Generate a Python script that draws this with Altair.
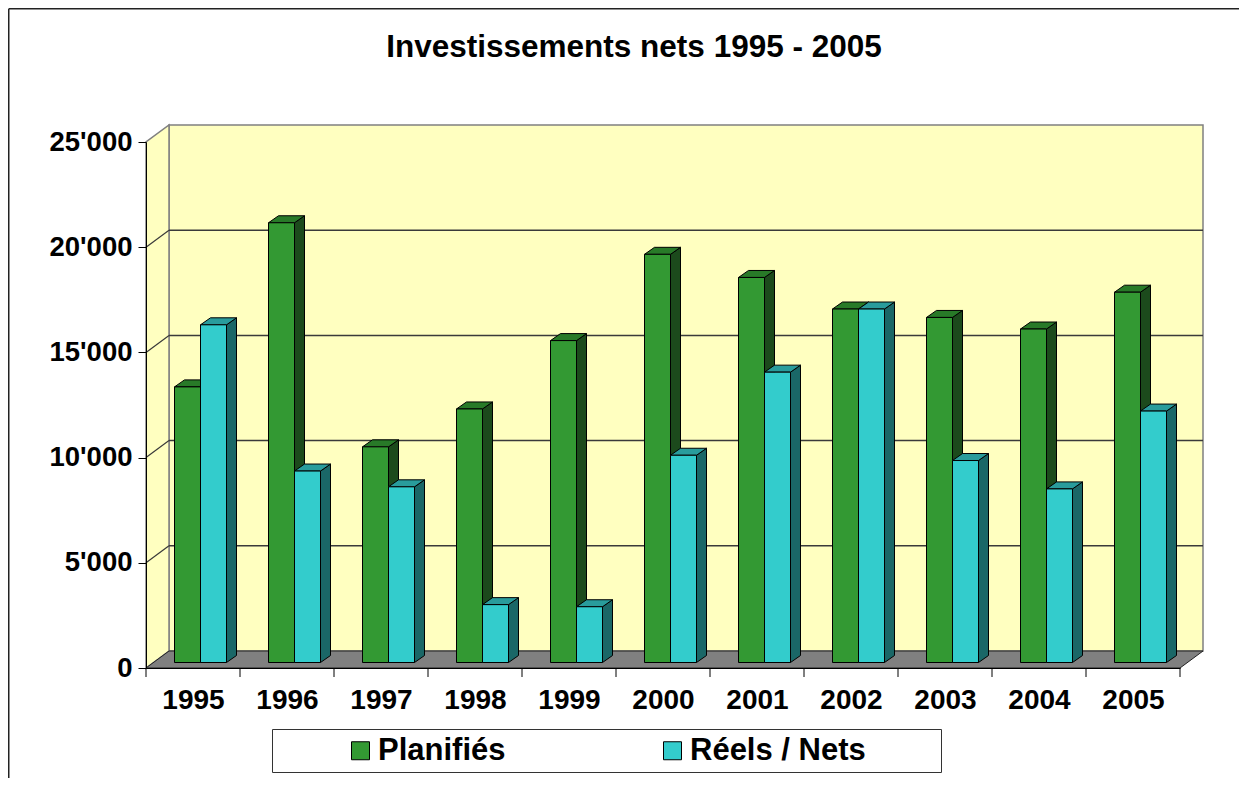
import json
import altair as alt
import pandas as pd

# ---------------- data ----------------
years = ["1995", "1996", "1997", "1998", "1999", "2000", "2001", "2002", "2003", "2004", "2005"]
planifies = [13100, 20900, 10250, 12050, 15300, 19400, 18300, 16800, 16400, 15850, 17600]
reels = [16050, 9100, 8350, 2750, 2650, 9850, 13800, 16800, 9600, 8250, 11950]
series_names = ["Planifiés", "Réels / Nets"]
y_ticks = [0, 5000, 10000, 15000, 20000, 25000]
title_text = "Investissements nets 1995 - 2005"

# ---------------- style ----------------
front_colors = ["#339933", "#33CCCC"]
top_colors = ["#287A28", "#299C9C"]
side_colors = ["#1C4A1C", "#1A6767"]
wall_color = "#FFFFC0"
floor_color = "#808080"
FONT = "Liberation Sans"

N = len(years)
CAT_PX = 94            # pixels per category
W = CAT_PX * N         # plot width
H = 526                # plot height (0 .. 25000 on the front plane)
YMAX = 25000
ux = 1.0 / CAT_PX      # data units per pixel (x)
uy = YMAX / H          # data units per pixel (y)
PAD = {"left": 138, "top": 134, "right": 59, "bottom": 110}

WALL_DX, WALL_DY = 23, 17      # depth of the 3-D box (px)
BAR_FX, BAR_FY = 7.5, 5.5      # bar front plane offset (px)
BAR_DX, BAR_DY = 10, 7         # bar depth (px)
BAR_W = 26                     # bar width (px)
TICK = 9                       # category tick length (px)

# ---------------- geometry tables built from the data ----------------
front_rows, top_rows, side_rows = [], [], []
for s, vals in enumerate([planifies, reels]):
    for i, v in enumerate(vals):
        c = i + 0.5 + BAR_FX * ux
        x0 = c - BAR_W * ux if s == 0 else c
        x1 = x0 + BAR_W * ux
        y0 = BAR_FY * uy
        y1 = v + y0
        bid = f"{s}-{years[i]}"
        front_rows.append(dict(series=series_names[s], s=s, year=years[i], value=v,
                               x0=x0, x1=x1, y0=y0, y1=y1))
        top_rows += [
            dict(id=bid, s=s, fill=top_colors[s], y=y1, xa=x0, xb=x1),
            dict(id=bid, s=s, fill=top_colors[s], y=y1 + BAR_DY * uy,
                 xa=x0 + BAR_DX * ux, xb=x1 + BAR_DX * ux),
        ]
        side_rows += [
            dict(id=bid, s=s, fill=side_colors[s], x=x1, ya=y0, yb=y1),
            dict(id=bid, s=s, fill=side_colors[s], x=x1 + BAR_DX * ux,
                 ya=y0 + BAR_DY * uy, yb=y1 + BAR_DY * uy),
        ]
front_df = pd.DataFrame(front_rows)
top_df = pd.DataFrame(top_rows)
side_df = pd.DataFrame(side_rows)

DXu, DYu = WALL_DX * ux, WALL_DY * uy
back_df = pd.DataFrame([dict(x0=DXu, x1=N + DXu, y0=DYu, y1=YMAX + DYu)])
sidewall_df = pd.DataFrame([dict(x=0, ya=0, yb=YMAX), dict(x=DXu, ya=DYu, yb=YMAX + DYu)])
floor_df = pd.DataFrame([dict(y=0, xa=0, xb=N), dict(y=DYu, xa=DXu, xb=N + DXu)])
grid_vals = [v for v in y_ticks if 0 < v < YMAX]
grid_back_df = pd.DataFrame([dict(x0=DXu, x1=N + DXu, y=v + DYu) for v in grid_vals])
grid_side_df = pd.DataFrame([dict(x0=0, x1=DXu, y0=v, y1=v + DYu) for v in grid_vals])
cat_tick_df = pd.DataFrame([dict(x=i, y0=0, y1=-TICK * uy) for i in range(N + 1)])
one_row = pd.DataFrame([{"k": 0}])

xs = alt.Scale(domain=[0, N], nice=False, zero=False)
ys = alt.Scale(domain=[0, YMAX], nice=False, zero=False)

year_expr = json.dumps(years) + "[floor(datum.value)] || ''"

x_axis = alt.Axis(values=[i + 0.5 for i in range(N)], labelExpr=year_expr, title=None, grid=False,
                  ticks=False, labelAlign="center", labelFont=FONT, labelFontSize=28,
                  labelFontWeight="bold", labelColor="black", labelPadding=18,
                  labelOverlap=False, labelFlush=False, zindex=2,
                  domainColor="black", domainWidth=1)
y_axis = alt.Axis(values=y_ticks, labelExpr="replace(format(datum.value, ','), ',', \"'\")",
                  title=None, grid=False, labelFont=FONT, labelFontSize=27.5,
                  labelFontWeight="bold", labelColor="black", labelPadding=6, zindex=2,
                  labelOverlap=False, labelFlush=False,
                  tickColor="black", tickSize=8, domainColor="black", domainWidth=1)


def X(field, **kw):
    return alt.X(field, scale=xs, axis=x_axis, **kw)


def Y(field, **kw):
    return alt.Y(field, scale=ys, axis=y_axis, **kw)


# chart frame (decoration): left and top border lines, kept inside the canvas
frame_left = alt.Chart(one_row).mark_rule(color="#222", strokeWidth=1.5).encode(
    x=alt.value(-PAD["left"] + 0.75), y=alt.value(-PAD["top"] + 0.75),
    y2=alt.value(H + PAD["bottom"]))
frame_top = alt.Chart(one_row).mark_rule(color="#222", strokeWidth=1.5).encode(
    x=alt.value(-PAD["left"] + 0.75), x2=alt.value(W + PAD["right"]),
    y=alt.value(-PAD["top"] + 0.75))

# legend box (decoration behind the real legend)
legend_box = alt.Chart(one_row).mark_rect(fill="white", stroke="#333", strokeWidth=1).encode(
    x=alt.value(126.5), x2=alt.value(795.5), y=alt.value(587.5), y2=alt.value(630.5))

back = alt.Chart(back_df).mark_rect(fill=wall_color, stroke="#808080", strokeWidth=1.5).encode(
    x=X("x0:Q"), x2="x1:Q", y=Y("y0:Q"), y2="y1:Q")

sidewall = alt.Chart(sidewall_df).mark_area(orient="vertical", fill=wall_color, stroke="#808080",
                                            strokeWidth=1.5).encode(
    x=X("x:Q"), y=Y("ya:Q", stack=None), y2="yb:Q")

floor = alt.Chart(floor_df).mark_area(orient="horizontal", fill=floor_color, stroke="#222",
                                      strokeWidth=1).encode(
    y=Y("y:Q"), x=X("xa:Q", stack=None), x2="xb:Q")

grid_back = alt.Chart(grid_back_df).mark_rule(color="#3a3a3a", strokeWidth=1.5).encode(
    x=X("x0:Q"), x2="x1:Q", y=Y("y:Q"))

grid_side = alt.Chart(grid_side_df).mark_rule(color="#3a3a3a", strokeWidth=1.2).encode(
    x=X("x0:Q"), x2="x1:Q", y=Y("y0:Q"), y2="y1:Q")

cat_ticks = alt.Chart(cat_tick_df).mark_rule(color="black", strokeWidth=1).encode(
    x=X("x:Q"), y=Y("y0:Q"), y2="y1:Q")


def bar_layers(s):
    side = alt.Chart(side_df[side_df.s == s]).mark_area(
        orient="vertical", stroke="black", strokeWidth=1, strokeJoin="round").encode(
        x=X("x:Q"), y=Y("ya:Q", stack=None), y2="yb:Q",
        detail="id:N", fill=alt.Fill("fill:N", scale=None))
    top = alt.Chart(top_df[top_df.s == s]).mark_area(
        orient="horizontal", stroke="black", strokeWidth=1, strokeJoin="round").encode(
        y=Y("y:Q"), x=X("xa:Q", stack=None), x2="xb:Q",
        detail="id:N", fill=alt.Fill("fill:N", scale=None))
    front = alt.Chart(front_df[front_df.s == s]).mark_rect(stroke="black", strokeWidth=1).encode(
        x=X("x0:Q"), x2="x1:Q", y=Y("y0:Q"), y2="y1:Q",
        color=alt.Color("series:N",
                        scale=alt.Scale(domain=series_names, range=front_colors),
                        legend=alt.Legend(
                            title=None, orient="none", legendX=199, legendY=593,
                            direction="horizontal", symbolType="square", symbolSize=324,
                            symbolStrokeColor="black", symbolStrokeWidth=1,
                            labelFont=FONT, labelFontSize=31, labelFontWeight="bold",
                            labelColor="black", labelOffset=2, columnPadding=151,
                            labelLimit=400, padding=0)),
        tooltip=["year:N", "series:N", "value:Q"])
    return [side, top, front]


layers = ([frame_left, frame_top, back, sidewall, floor, grid_back, grid_side, cat_ticks]
          + bar_layers(0) + bar_layers(1) + [legend_box])

chart = alt.layer(*layers).properties(
    width=W, height=H,
    title=alt.TitleParams(title_text, font=FONT, fontSize=31.5, fontWeight="bold", color="black",
                          anchor="middle", dx=-29, offset=0, dy=55),
    padding=PAD,
    autosize=alt.AutoSizeParams(type="none"),
    background="white",
).configure_view(stroke=None)

chart.save("out.html", embed_options={"renderer": "svg", "actions": False})
